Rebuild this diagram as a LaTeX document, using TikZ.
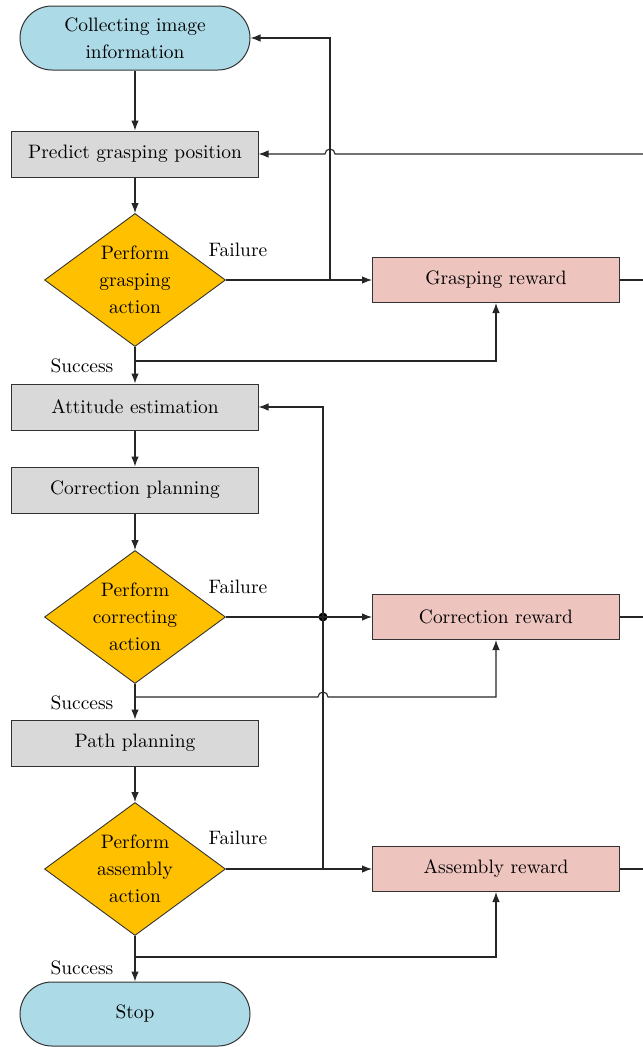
\documentclass[tikz,border=0pt]{standalone}
\usepackage{fontspec}
\setmainfont{lmroman10-regular.otf}
\usepackage{tikz}
\usetikzlibrary{calc,shapes.geometric,arrows.meta}
\definecolor{termblue}{RGB}{172,218,230}
\definecolor{stepgray}{RGB}{217,217,217}
\definecolor{decgold}{RGB}{255,192,0}
\definecolor{rwdpink}{RGB}{238,196,191}
\tikzset{%
  >={Latex[length=10bp,width=7.5bp]}, % filled arrows
  every node/.style={font=\fontsize{19.5}{27}\selectfont,align=center},%
  line/.style={line width=1.1bp,draw=black!85},%
  terminal/.style={draw=black!80,fill=termblue,rounded corners=32bp,
    minimum width=230bp,minimum height=64bp,line width=1bp},%
  process/.style={draw=black!80,fill=stepgray,minimum width=246bp,
    minimum height=46bp,inner sep=0pt,line width=1bp},%
  decision/.style={draw=black!80,diamond,aspect=1.36,fill=decgold,
    minimum width=181bp,minimum height=133bp,inner sep=0pt,line width=0.9bp},%
  reward/.style={draw=black!80,fill=rwdpink,minimum width=247bp,
    minimum height=45bp,inner sep=0pt,line width=1bp},%
  junction/.style={circle,fill=black,inner sep=0pt,outer sep=0pt,minimum size=9bp}%
}

\begin{document}
\begin{tikzpicture}[x=1bp,y=1bp] % grasping / assembly flow
\useasboundingbox (0,0) rectangle (643,-1047);

% main column
\node[terminal] (start) at (135,-38) {Collecting image\\information};
\node[process] (predict) at (135,-154) {Predict grasping position};
\node[decision] (grasp) at (135,-280) {Perform\\grasping\\action};
\node[process] (attitude) at (135,-407) {Attitude estimation};
\node[process] (corrPlan) at (135,-490) {Correction planning};
\node[decision] (correct) at (135,-617) {Perform\\correcting\\action};
\node[process] (path) at (135,-743) {Path planning};
\node[decision] (assemble) at (135,-869) {Perform\\assembly\\action};
\node[terminal] (stop) at (135,-1014) {Stop};

% rewards
\node[reward] (graspRwd) at (496,-280) {Grasping reward};
\node[reward] (corrRwd) at (496,-617) {Correction reward};
\node[reward] (asmRwd) at (496,-869) {Assembly reward};

% labels
\node (fail1) at ($(grasp.east)+(12,30)$) {Failure};
\node (fail2) at ($(correct.east)+(12,30)$) {Failure};
\node (fail3) at ($(assemble.east)+(12,31)$) {Failure};
\node (succ1) at ($(attitude.north)+(-53,18)$) {Success};
\node (succ2) at ($(path.north)+(-53,17)$) {Success};
\node (succ3) at ($(stop.north)+(-53,14)$) {Success};

% free ends and crossings
\coordinate (edgeP) at (643,-154);
\coordinate (edgeG) at (643,-280);
\coordinate (edgeC) at (643,-617);
\coordinate (edgeA) at (643,-869);
\coordinate (back1) at (330,-280);
\coordinate (jump1) at (330,-154);
\coordinate (back2) at (323,-869);
\coordinate (jump2) at (323,-697);
\coordinate (split1) at (135,-361);
\coordinate (split2) at (135,-697);
\coordinate (split3) at (135,-957);
\node[junction] (dot2) at (323,-617) {};

% downward flow
\draw[line,->] (start) -- (predict);
\draw[line,->] (predict) -- (grasp);
\draw[line,->] (grasp) -- (attitude);
\draw[line,->] (attitude) -- (corrPlan);
\draw[line,->] (corrPlan) -- (correct);
\draw[line,->] (correct) -- (path);
\draw[line,->] (path) -- (assemble);
\draw[line,->] (assemble) -- (stop);

% failures
\draw[line,->] (grasp) -- (graspRwd);
\draw[line,->] (correct) -- (corrRwd);
\draw[line,->] (assemble) -- (asmRwd);
\draw[line,->] (back1) |- (start.east);
\draw[line,->] (back2) |- (attitude.east);

% successes
\draw[line,->] (split1) -| (graspRwd.south);
\draw[line,->] (split2) -- ([xshift=-5bp]jump2)
  arc[start angle=180,end angle=0,radius=5bp] -| (corrRwd.south);
\draw[line,->] (split3) -| (asmRwd.south);

% rewards out to the right
\draw[line] (graspRwd) -- (edgeG);
\draw[line] (corrRwd) -- (edgeC);
\draw[line] (asmRwd) -- (edgeA);
\draw[line,->] (edgeP) -- ([xshift=5bp]jump1)
  arc[start angle=0,end angle=180,radius=5bp] -- (predict.east);

\end{tikzpicture}
\end{document}
